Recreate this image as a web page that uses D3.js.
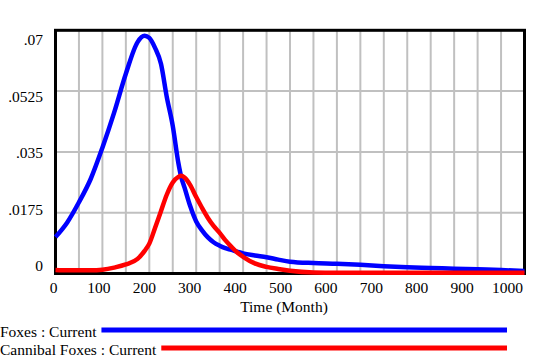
<!DOCTYPE html>
<html>
<head>
<meta charset="utf-8">
<script src="https://cdn.jsdelivr.net/npm/d3@7"></script>
<style>
  html, body { margin: 0; padding: 0; background: #fff; }
  svg { display: block; }
</style>
</head>
<body>
<svg id="chart" width="540" height="360"></svg>
<script>
// ---- data ----
const time = [0, 25, 50, 75, 100, 125, 150, 175, 190, 200, 212, 225, 237, 250, 262, 268, 275, 287, 300, 312, 325, 337, 350, 362, 375, 387, 400, 425, 450, 475, 500, 550, 600, 650, 700, 750, 800, 850, 900, 950, 1000];
const foxes = [0.0105, 0.0147, 0.0205, 0.0272, 0.0362, 0.0463, 0.0575, 0.0666, 0.0684, 0.0678, 0.0650, 0.0603, 0.0510, 0.0425, 0.0318, 0.0278, 0.0248, 0.0195, 0.0150, 0.0125, 0.0104, 0.0090, 0.0080, 0.0073, 0.0068, 0.0063, 0.0058, 0.0052, 0.0047, 0.0040, 0.0034, 0.0030, 0.0028, 0.0025, 0.0021, 0.0018, 0.0016, 0.0014, 0.0012, 0.0010, 0.0007];
const cannibalFoxes = [0.0010, 0.0009, 0.0009, 0.0009, 0.0011, 0.0017, 0.0026, 0.0042, 0.0065, 0.0086, 0.0130, 0.0180, 0.0226, 0.0262, 0.0278, 0.0281, 0.0276, 0.0255, 0.0220, 0.0190, 0.0160, 0.0137, 0.0117, 0.0096, 0.0077, 0.0061, 0.0048, 0.0029, 0.0019, 0.0013, 0.0008, 0.0003, 0.0002, 0.0002, 0.0002, 0.0002, 0.0002, 0.0002, 0.0002, 0.0002, 0.0002];
const yTickValues = [0, 0.0175, 0.035, 0.0525, 0.07];
const yTickLabels = ["0", ".0175", ".035", ".0525", ".07"];
const xTickValues = [0, 100, 200, 300, 400, 500, 600, 700, 800, 900, 1000];
const xGridValues = d3.range(50, 1000, 50);
const seriesNames = ["Foxes : Current", "Cannibal Foxes : Current"];
const seriesColors = ["#0000ff", "#ff0000"];
const xTitle = "Time (Month)";

const FONT = "Liberation Serif";
const FS = 15.5;

// ---- layout ----
const svg = d3.select("#chart");
const x = d3.scaleLinear().domain([0, 1000]).range([55.5, 524.5]);
const y = d3.scaleLinear().domain([0, 0.07]).range([273.5, 30.3]);
// Vensim spreads labels evenly inside the axis span
const xLabel = d3.scaleLinear().domain([0, 1000]).range([53.5, 507.5]);
const yLabel = d3.scaleLinear().domain([0, 0.07]).range([271, 45]);

function txt(sel) {
  return sel.attr("font-family", FONT).attr("font-size", FS).attr("fill", "#000");
}

// grid
const grid = svg.append("g").attr("stroke", "#c0c0c0").attr("stroke-width", 2);
grid.selectAll("line.v").data(xGridValues).join("line")
  .attr("x1", d => x(d)).attr("x2", d => x(d))
  .attr("y1", y(0.07)).attr("y2", y(0));
grid.selectAll("line.h").data(yTickValues.slice(1, -1)).join("line")
  .attr("x1", x(0)).attr("x2", x(1000))
  .attr("y1", d => y(d)).attr("y2", d => y(d));

// frame
svg.append("rect")
  .attr("x", x(0)).attr("y", y(0.07))
  .attr("width", x(1000) - x(0)).attr("height", y(0) - y(0.07))
  .attr("fill", "none").attr("stroke", "#000").attr("stroke-width", 3);

// y labels
svg.append("g").selectAll("text").data(yTickValues).join("text")
  .call(txt)
  .attr("x", 43).attr("y", d => yLabel(d))
  .attr("text-anchor", "end")
  .text((d, i) => yTickLabels[i]);

// x labels
svg.append("g").selectAll("text").data(xTickValues).join("text")
  .call(txt)
  .attr("x", d => xLabel(d)).attr("y", 293)
  .attr("text-anchor", "middle")
  .text(d => d);

svg.append("text").call(txt).attr("x", 284).attr("y", 312)
  .attr("text-anchor", "middle").text(xTitle);

// lines
const series = [foxes, cannibalFoxes];
const line = d3.line().x(d => x(d[0])).y(d => y(d[1])).curve(d3.curveMonotoneX);
series.forEach((vals, i) => {
  svg.append("path")
    .datum(time.map((t, j) => [t, vals[j]]))
    .attr("fill", "none")
    .attr("stroke", seriesColors[i])
    .attr("stroke-width", 4.5)
    .attr("stroke-linejoin", "round")
    .attr("d", line);
});

// legend
const legendY = [337, 355];
const legend = svg.append("g");
seriesNames.forEach((name, i) => {
  const t = legend.append("text").call(txt).attr("x", 0).attr("y", legendY[i]).text(name);
  const w = t.node().getComputedTextLength();
  legend.append("line")
    .attr("x1", w + 5).attr("x2", 507)
    .attr("y1", legendY[i] - 7).attr("y2", legendY[i] - 7)
    .attr("stroke", seriesColors[i]).attr("stroke-width", 5);
});
</script>
</body>
</html>
